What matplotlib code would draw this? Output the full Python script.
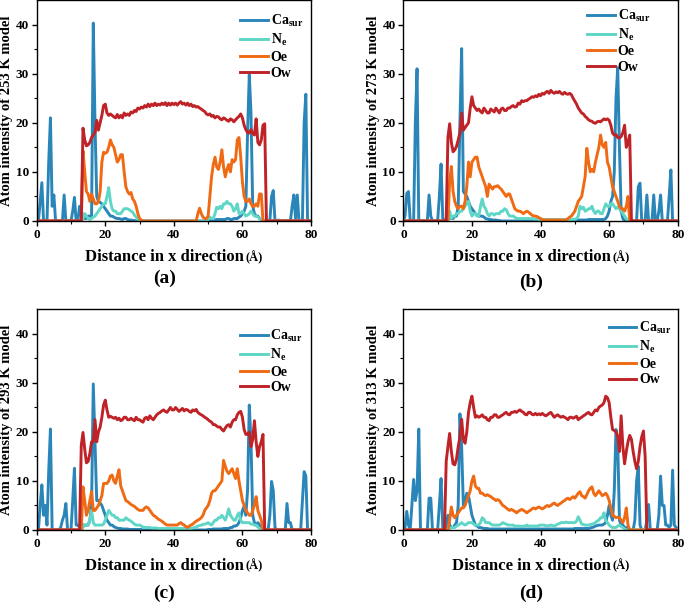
import matplotlib
matplotlib.use('Agg')
import matplotlib.pyplot as plt
import numpy as np

plt.rcParams['font.family'] = 'serif'
plt.rcParams['font.serif'] = ['Liberation Serif', 'DejaVu Serif']
plt.rcParams['font.weight'] = 'bold'
plt.rcParams['axes.labelweight'] = 'bold'
plt.rcParams['mathtext.fontset'] = 'custom'
plt.rcParams['mathtext.rm'] = 'Liberation Serif:bold'
plt.rcParams['mathtext.it'] = 'Liberation Serif:italic:bold'
plt.rcParams['mathtext.bf'] = 'Liberation Serif:bold'

# distance grid (Å), 0.5 step
dist = np.arange(0, 80, 0.5)

# ---- 253 K ----
ca_253 = [0, 0, 4, 7.8, 0, 0, 0, 12, 21, 3, 5.3, 0, 0, 0, 0, 0, 5.3, 0, 0, 0,
          0, 2, 4.8, 0, 0, 3, 2, 1, 0.5, 0.5, 1, 1, 1, 40.3, 20, 5, 4, 3.8, 3.5, 3,
          2.5, 2, 1.5, 1, 1, 0.8, 0.6, 0.5, 0.5, 0.4, 0.3, 0.5, 0.5, 0.3, 0.2, 0.2, 0.1, 0.1, 0, 0,
          0, 0, 0, 0, 0, 0, 0, 0, 0, 0, 0, 0, 0, 0, 0, 0, 0, 0, 0, 0,
          0, 0, 0, 0, 0, 0, 0, 0, 0, 0, 0, 0, 0, 0, 0, 0, 0, 0, 0, 0,
          0, 0.1, 0.2, 0.2, 0.2, 0.3, 0.3, 0.3, 0.3, 0.3, 0.3, 0.5, 0.5, 0.3, 0.3, 0.5, 0.5, 0.5, 0.8, 1,
          1.5, 2, 3, 18, 29.8, 22, 3, 1.5, 1, 1, 0.5, 0.3, 0, 0, 0, 0, 0, 5, 6.2, 0,
          0, 0.2, 0, 0, 0, 0, 0, 0, 0, 3, 5.3, 0.5, 5.3, 0, 0, 0, 20, 25.8, 0, 0]
ne_253 = [0, 0, 0, 0, 0, 0, 0, 0, 0, 0, 0, 0, 0, 0, 0, 0, 0, 0, 0, 0,
          0, 0, 0, 0, 0, 0, 0, 0.5, 1.5, 1, 0.5, 0.3, 0.5, 0.8, 1, 1.5, 2, 2.5, 3, 3.5,
          3.5, 5, 6.8, 4, 2.5, 2, 2, 1.5, 1.5, 1.5, 2, 2.5, 2.5, 2.5, 2.3, 2, 1.8, 1.2, 0.8, 0.4,
          0.2, 0, 0, 0, 0, 0, 0, 0, 0, 0, 0, 0, 0, 0, 0, 0, 0, 0, 0, 0,
          0, 0, 0, 0, 0, 0, 0, 0, 0, 0, 0, 0, 0, 0, 0, 0, 0, 0, 0, 0,
          0.3, 0.8, 0.5, 0.5, 1.5, 2.8, 2.5, 3, 2.5, 3.5, 3.5, 4, 3.5, 3.5, 3, 2, 2.5, 3.5, 1.5, 1.5,
          2, 1.5, 1, 1.2, 1.5, 2, 1.5, 1, 1, 0.8, 0.5, 0.2, 0, 0, 0, 0, 0, 0, 0, 0,
          0, 0, 0, 0, 0, 0, 0, 0, 0, 0, 0, 0, 0, 0, 0, 0, 0, 0, 0, 0]
oe_253 = [0, 0, 0, 0, 0, 0, 0, 0, 0, 0, 0, 0, 0, 0, 0, 0, 0, 0, 0, 0,
          0, 0, 0, 0, 0, 0, 0, 14.3, 10, 6, 5.5, 4, 5.5, 4.5, 3.5, 3.5, 4, 6, 12, 14,
          13.8, 14, 15, 16.5, 15.5, 15, 13.5, 12, 12.5, 13.5, 13.5, 10, 7, 6, 5.5, 5.8, 4.5, 4, 3, 1.5,
          0.5, 0.2, 0, 0, 0, 0, 0, 0, 0, 0, 0, 0, 0, 0, 0, 0, 0, 0, 0, 0,
          0, 0, 0, 0, 0, 0, 0, 0, 0, 0, 0, 0, 0, 0, 1.5, 2.6, 1.5, 0.8, 0.5, 0.5,
          1, 5, 9, 11.5, 13, 11, 10.5, 12, 14.5, 11, 9, 10.5, 11.5, 10, 12.5, 12, 12.5, 16.5, 17, 13,
          8, 5, 4, 4, 4.5, 3.5, 3, 3, 3.5, 3, 5.5, 5.5, 0, 0, 0, 0, 0, 0, 0, 0,
          0, 0, 0, 0, 0, 0, 0, 0, 0, 0, 0, 0, 0, 0, 0, 0, 0, 0, 0, 0]
ow_253 = [0, 0, 0, 0, 0, 0, 0, 0, 0, 0, 0, 0, 0, 0, 0, 0, 0, 0, 0, 0,
          0, 0, 0, 0, 0, 0, 0, 18.9, 16.5, 15.3, 15.5, 16, 17, 17.5, 18, 20.5, 18.5, 20, 21.5, 23.5,
          23.8, 22, 21.5, 21.8, 21.5, 21.2, 21, 21.7, 21, 21.5, 21, 22, 21.5, 21.8, 21.5, 22.2, 22, 22.5, 22.3, 23,
          22.8, 23.2, 23, 23.5, 23.2, 23.8, 23.3, 23.8, 23.5, 24, 23.5, 23.8, 23.6, 24, 23.7, 24.1, 23.5, 24, 23.6, 24,
          23.7, 24, 23.6, 24, 24.3, 23.8, 24, 23.6, 24, 23.5, 23.8, 23.3, 23.5, 23.2, 23.3, 23, 22.8, 22.5, 22.3, 21.8,
          21.6, 21.8, 21.3, 21.5, 21, 21.3, 21.2, 20.8, 20.6, 21, 20.8, 20.5, 20.3, 20.8, 20.6, 20.2, 20.6, 21, 21.3, 21.8,
          21, 19.5, 18.6, 18, 17.9, 18.6, 17.8, 17.5, 20.8, 16, 15.5, 16.5, 19.5, 19.8, 0, 0, 0, 0, 0, 0,
          0, 0, 0, 0, 0, 0, 0, 0, 0, 0, 0, 0, 0, 0, 0, 0, 0, 0, 0, 0]

# ---- 273 K ----
ca_273 = [0, 1, 5.6, 6, 0, 0, 0, 20, 31, 0, 0, 0, 0, 0, 0, 5.3, 1, 0, 0, 0,
          0, 5, 11.6, 0.5, 0, 0.5, 1, 0.5, 0.5, 0.5, 1, 1, 3, 20, 35.1, 6, 5.5, 5, 4, 3,
          2.5, 2, 1.5, 1.2, 1, 1, 1, 0.8, 0.5, 0.4, 0.3, 0.3, 0.2, 0.2, 0.2, 0.1, 0.1, 0, 0, 0,
          0, 0, 0, 0, 0, 0, 0, 0, 0, 0, 0, 0, 0, 0, 0, 0, 0, 0, 0, 0,
          0, 0, 0, 0, 0, 0, 0, 0, 0, 0, 0, 0, 0, 0, 0, 0, 0, 0, 0, 0,
          0.1, 0.1, 0.2, 0.2, 0.2, 0.2, 0.2, 0.2, 0.3, 0.3, 0.3, 0.3, 0.3, 0.3, 0.3, 0.3, 0.3, 0.3, 0.5, 1,
          2, 4, 5, 10, 25, 31.2, 15, 2, 0.5, 0, 0, 0, 0, 0, 0, 0, 0, 7, 7.7, 0,
          0, 0, 5.3, 0, 0, 0, 5.3, 0, 0, 2, 5.3, 0, 0, 0, 0, 5, 10.4, 0, 0, 0]
ne_273 = [0, 0, 0, 0, 0, 0, 0, 0, 0, 0, 0, 0, 0, 0, 0, 0, 0, 0, 0, 0,
          0, 0, 0, 0, 0, 0, 0, 2, 0.5, 1, 1, 1.5, 1.5, 2, 2, 2.5, 3, 3.5, 4, 2,
          1, 1.5, 1.5, 1, 1, 3, 4.5, 3, 2.5, 1.5, 1, 1.5, 1.5, 1.2, 1.5, 1.5, 1.5, 2, 2, 2.5,
          2.3, 1.5, 1, 1, 1, 0.8, 0.5, 0.5, 0.5, 0.5, 0.5, 0.5, 0.5, 0.5, 0.5, 0.5, 0.4, 0.4, 0.4, 0.3,
          0.3, 0.3, 0.3, 0.3, 0.3, 0.3, 0.3, 0.3, 0.3, 0.3, 0.3, 0.3, 0.3, 0.3, 0.3, 0.3, 0.3, 0.3, 0.3, 0.3,
          0.3, 0.5, 1, 3, 2.5, 2.8, 2, 2.2, 2.5, 2.5, 3, 2, 1.5, 2, 2, 1.5, 1.5, 2.5, 3.5, 3,
          3, 3.5, 3.5, 3, 2.5, 2.8, 2.5, 2, 1.5, 1, 0.5, 0.2, 0, 0, 0, 0, 0, 0, 0, 0,
          0, 0, 0, 0, 0, 0, 0, 0, 0, 0, 0, 0, 0, 0, 0, 0, 0, 0, 0, 0]
oe_273 = [0, 0, 0, 0, 0, 0, 0, 0, 0, 0, 0, 0, 0, 0, 0, 0, 0, 0, 0, 0,
          0, 0, 0, 0, 0, 0, 0, 8, 11.1, 6, 4, 3, 2.5, 3, 3, 2.5, 4, 7, 12, 9,
          12, 12.5, 13, 13, 11, 10, 9, 8, 7, 5, 7.5, 7, 6.5, 7, 7, 7.2, 6.8, 6.5, 6, 5.5,
          5, 5.5, 5.5, 4.5, 3.5, 2.5, 2.2, 2, 2, 1.8, 1.5, 1.8, 2, 1.8, 1.5, 1.2, 1, 1, 0.9, 0.7,
          0.5, 0.3, 0.2, 0.2, 0.2, 0.2, 0.2, 0.2, 0.2, 0.2, 0.2, 0.2, 0.2, 0.2, 0.2, 0.2, 0.5, 0.8, 1, 1.5,
          2, 3, 4, 4.5, 5, 7, 9, 14.8, 12, 10, 10.5, 10, 12, 13.5, 15, 17.5, 15.5, 15, 16, 12,
          11, 9, 7, 6, 5, 4, 3, 2.5, 2.5, 2, 3, 5, 0, 0, 0, 0, 0, 0, 0, 0,
          0, 0, 0, 0, 0, 0, 0, 0, 0, 0, 0, 0, 0, 0, 0, 0, 0, 0, 0, 0]
ow_273 = [0, 0, 0, 0, 0, 0, 0, 0, 0, 0, 0, 0, 0, 0, 0, 0, 0, 0, 0, 0,
          0, 0, 0, 0, 0, 0, 17, 19.8, 16, 14.1, 14.5, 15.2, 16.5, 18, 22, 18.5, 19, 19.5, 20, 23,
          25.3, 23.5, 23, 22.5, 22.8, 22.3, 22, 23, 22.5, 22, 22, 22.8, 22.5, 22.2, 23, 22.5, 22, 22.8, 23, 22.5,
          22.5, 23, 23, 23.3, 23.5, 23.2, 23.3, 24, 23.8, 24.5, 24.3, 24.5, 24.5, 24.8, 25, 25.3, 25.2, 25.5, 25.3, 25.8,
          25.5, 26, 25.8, 26.2, 26.4, 26, 26.6, 26.2, 26, 26.3, 26.1, 26.4, 26, 25.8, 26.2, 25.9, 25.8, 26, 25.7, 25,
          24.4, 23.8, 23, 22.5, 22, 21.8, 21.3, 21, 20.6, 20.4, 20.3, 20, 19.9, 20.2, 20.3, 20.2, 20.5, 20.8, 20.6, 20.8,
          20.5, 19.5, 17.9, 17.5, 17.6, 17, 16.9, 17.2, 18, 19.5, 15, 16, 17.5, 0, 0, 0, 0, 0, 0, 0,
          0, 0, 0, 0, 0, 0, 0, 0, 0, 0, 0, 0, 0, 0, 0, 0, 0, 0, 0, 0]

# ---- 293 K ----
ca_293 = [0, 0, 5, 9.2, 3, 5, 1, 12, 20.6, 0, 0, 0, 0, 0, 0.5, 2, 3, 5.4, 0, 0,
          0, 6, 12.6, 1, 1, 0.5, 0.5, 1, 1, 1, 1, 2, 5, 29.8, 18, 6, 6, 5.5, 5, 4,
          3, 2, 1.5, 1, 1, 0.7, 0.5, 0.4, 0.3, 0.3, 0.2, 0.2, 0.2, 0.2, 0.1, 0.1, 0.1, 0.1, 0.1, 0.1,
          0.1, 0.1, 0, 0, 0, 0, 0, 0, 0, 0, 0, 0, 0, 0, 0, 0, 0, 0, 0, 0,
          0, 0, 0, 0, 0, 0, 0, 0, 0, 0, 0, 0, 0, 0, 0, 0, 0, 0, 0, 0,
          0.1, 0.1, 0.1, 0.2, 0.2, 0.2, 0.2, 0.2, 0.2, 0.3, 0.3, 0.3, 0.3, 0.5, 0.5, 0.8, 0.8, 1, 1.5, 2.5,
          4, 4.8, 3, 8, 25.5, 18, 3, 1.5, 1, 1.5, 1, 0.5, 0.2, 0, 0, 0, 3, 9.9, 8, 0.5,
          0, 0, 0, 0, 0, 0, 5.4, 1.5, 1.5, 0, 0, 0, 0, 0, 0, 6, 11.9, 11, 0, 0]
ne_293 = [0, 0, 0, 0, 0, 0, 0, 0, 0, 0, 0, 0, 0, 0, 0, 0, 0, 0, 0, 0,
          0, 0, 0, 0, 0, 0, 0, 0.5, 1, 1, 1, 2, 4, 1.5, 1, 1, 1, 1, 1, 1.2,
          2, 3, 4, 3.5, 3, 3, 2.5, 2.5, 2, 2, 2, 2, 2.5, 2.2, 2, 1.8, 1.5, 1.2, 1, 1,
          1, 0.8, 0.6, 0.5, 0.5, 0.5, 0.5, 0.4, 0.4, 0.4, 0.4, 0.3, 0.3, 0.3, 0.3, 0.3, 0.3, 0.3, 0.3, 0.3,
          0.3, 0.3, 0.3, 0.3, 0.3, 0.3, 0.3, 0.3, 0.3, 0.3, 0.3, 0.4, 0.5, 0.6, 0.8, 0.9, 1, 1.1, 1.2, 1.3,
          1.5, 1.2, 1, 1.5, 2, 2, 2.5, 2.5, 3, 2.5, 2, 3, 4.3, 3, 2.5, 2, 2, 3, 3.5, 2,
          1.5, 1.5, 1.5, 1.5, 1.5, 1.2, 1.2, 1, 1, 0.6, 0.3, 0.1, 0, 0, 0, 0, 0, 0, 0, 0,
          0, 0, 0, 0, 0, 0, 0, 0, 0, 0, 0, 0, 0, 0, 0, 0, 0, 0, 0, 0]
oe_293 = [0, 0, 0, 0, 0, 0, 0, 0, 0, 0, 0, 0, 0, 0, 0, 0, 0, 0, 0, 0,
          0, 0, 0, 0, 0, 0, 0, 8.8, 6, 3, 4, 6, 7.8, 4, 4, 4.5, 5, 6, 7, 9.5,
          9.5, 9.5, 10, 11, 11.2, 10, 9.5, 11, 12.3, 9, 8, 7, 6, 5.8, 5.5, 5.2, 5, 4.8, 4.5, 4.2,
          4, 4, 4, 4.5, 4.7, 4.5, 4, 3.5, 3, 2.8, 2.5, 2.2, 2, 1.8, 1.5, 1.2, 1, 1, 1, 1,
          1, 1, 1, 1.3, 1.5, 1.2, 1, 0.7, 0.5, 0.8, 1, 1.2, 1.5, 1.8, 2, 2.2, 2.5, 3, 4, 4.5,
          5, 6, 7.5, 8, 8, 8.5, 9, 9.5, 10, 14.2, 13, 12, 11.5, 12, 12.5, 11.5, 10.5, 12.5, 10, 8,
          6, 5, 4, 3.5, 3, 3, 4, 5, 6.8, 4, 3, 2, 0, 0, 0, 0, 0, 0, 0, 0,
          0, 0, 0, 0, 0, 0, 0, 0, 0, 0, 0, 0, 0, 0, 0, 0, 0, 0, 0, 0]
ow_293 = [0, 0, 0, 0, 0, 0, 0, 0, 0, 0, 0, 0, 0, 0, 0, 0, 0, 0, 0, 0,
          0, 0, 0, 0, 0, 0, 17.3, 19.9, 16.5, 13.7, 14, 15.6, 18, 18, 22.5, 18, 20, 21, 23, 25.5,
          26.5, 24.5, 23, 23.2, 23, 22.8, 23, 22.5, 22.8, 22.3, 22.5, 23, 23, 22.5, 22.5, 22.8, 22.5, 22.3, 23, 22.5,
          22.5, 22.2, 22, 22.8, 23, 22.5, 23.3, 22.8, 22.5, 23, 23.5, 23.8, 24, 24.3, 24.5, 24.2, 24, 24.5, 25, 24.5,
          24.5, 25, 24.6, 24.2, 24.5, 24.8, 24.3, 24.6, 24.5, 24.2, 24, 24.5, 24.3, 24.6, 24, 23.7, 23.5, 23.3, 23, 22.8,
          22.5, 22.2, 22, 21.5, 21.5, 21.2, 21, 21, 20.5, 20.2, 20.8, 21.3, 21.5, 21, 22, 22.5, 22.5, 23.5, 24, 24.2,
          23, 20.5, 19.5, 19.5, 20, 17, 18.5, 22.3, 18, 15, 17, 18, 19.5, 0, 0, 0, 0, 0, 0, 0,
          0, 0, 0, 0, 0, 0, 0, 0, 0, 0, 0, 0, 0, 0, 0, 0, 0, 0, 0, 0]

# ---- 313 K ----
ca_313 = [0, 0.5, 3.8, 1, 0, 5, 10.3, 6, 8, 20.6, 0, 0, 0, 0, 0, 6.5, 6.5, 0, 0, 0,
          0, 5, 10.5, 0.5, 0, 1, 3, 1, 0.5, 0.5, 1, 1.5, 5, 23.7, 17, 5, 6, 7.5, 7, 5,
          3, 2, 1, 0.8, 0.5, 0.5, 0.4, 0.3, 0.3, 0.3, 0.2, 0.2, 0.2, 0.2, 0.2, 0.2, 0.2, 0.2, 0.2, 0.2,
          0.2, 0.2, 0.2, 0.2, 0.2, 0.2, 0.2, 0.2, 0.2, 0.2, 0.2, 0.2, 0.2, 0.2, 0.2, 0.2, 0.2, 0.2, 0.2, 0.2,
          0.2, 0.2, 0.2, 0.2, 0.2, 0.2, 0.2, 0.2, 0.2, 0.2, 0.2, 0.2, 0.2, 0.2, 0.2, 0.2, 0.2, 0.2, 0.2, 0.2,
          0.3, 0.3, 0.3, 0.3, 0.3, 0.3, 0.3, 0.3, 0.3, 0.4, 0.5, 0.6, 0.8, 0.9, 1, 1, 1, 1.2, 1.5, 3,
          5, 3, 2, 8, 20.5, 18, 2, 1, 1, 0.5, 0.5, 0.2, 0, 0, 0, 2, 10, 13, 1, 0,
          0, 0, 2, 5.2, 0, 0, 0, 0, 0, 3, 11, 5, 5, 1, 1, 0.5, 1, 12.2, 1, 0.5]
ne_313 = [0, 0, 0, 0, 0, 0, 0, 0, 0, 0, 0, 0, 0, 0, 0, 0, 0, 0, 0, 0,
          0, 0, 0, 0, 0, 0, 0, 0.3, 0.5, 0.5, 0.5, 0.8, 1, 1.2, 1.5, 1.2, 1, 1.2, 1.5, 1.5,
          1.5, 1.2, 1, 1, 1, 1.5, 2.5, 2.2, 1.5, 1.5, 1.5, 1.2, 1, 1, 1, 1, 1, 1.2, 1.5, 1.3,
          1.2, 1, 1, 1, 1, 0.8, 0.8, 0.8, 0.8, 0.7, 0.8, 0.8, 1, 0.8, 0.8, 0.8, 0.8, 0.8, 0.8, 0.9,
          1, 1, 1, 0.9, 0.8, 0.9, 1, 0.9, 0.8, 1, 1.2, 1.3, 1.5, 1.5, 1.5, 1.6, 1.5, 1.5, 1.5, 1.5,
          1.5, 1.8, 2.7, 2, 1.2, 1.1, 1, 1, 1, 1.1, 1.2, 1.3, 1.5, 1.8, 2, 2.5, 2.5, 3.5, 2, 1.5,
          1, 0.7, 0.5, 0.5, 0.5, 0.8, 1, 0.7, 0.5, 0.2, 0, 0, 0, 0, 0, 0, 0, 0, 0, 0,
          0, 0, 0, 0, 0, 0, 0, 0, 0, 0, 0, 0, 0, 0, 0, 0, 0, 0, 0, 0]
oe_313 = [0, 0, 0, 0, 0, 0, 0, 0, 0, 0, 0, 0, 0, 0, 0, 0, 0, 0, 0, 0,
          0, 0, 0, 0, 0, 0, 0, 2, 4.7, 3, 2.5, 3, 3.5, 4, 4.5, 4.5, 5, 6, 7, 8,
          10, 11, 9, 8.5, 8.5, 7.5, 7.5, 7.2, 7, 7.2, 7, 6.8, 6.5, 6.3, 6, 6.2, 6, 5.5, 5, 4.8,
          4.5, 4.2, 4, 4.2, 4, 3.8, 3.5, 3.8, 4, 4.2, 4, 3.8, 3.5, 3.8, 4, 4.3, 4.5, 4.3, 4.5, 4.7,
          4.5, 4.3, 4.5, 4.8, 5, 4.8, 5, 5.3, 5.5, 5.2, 5, 5.3, 5.5, 5.8, 6, 6.3, 6.5, 6.2, 6.5, 6.8,
          6.5, 7, 7.5, 7.8, 7, 6.8, 6.5, 7.2, 8, 8.5, 8.8, 7.5, 7, 7.5, 8, 7.5, 7, 7.2, 7.5, 7,
          6, 4.5, 3, 2.8, 2.5, 2.6, 2.5, 2, 1.5, 2.5, 4.5, 1, 0, 0, 0, 0, 0, 0, 0, 0,
          0, 0, 0, 0, 0, 0, 0, 0, 0, 0, 0, 0, 0, 0, 0, 0, 0, 0, 0, 0]
ow_313 = [0, 0, 0, 0, 0, 0, 0, 0, 0, 0, 0, 0, 0, 0, 0, 0, 0, 0, 0, 0,
          0, 0, 0, 0, 0, 14, 17, 19.7, 16, 13.5, 13.3, 14.5, 17, 19, 22.6, 18.5, 17.7, 20, 24, 26,
          27.3, 25, 23, 23.3, 23, 23.2, 23.5, 23, 23, 22.5, 22.3, 23, 23, 23.5, 23.5, 23, 23, 23.3, 23.5, 23.8,
          24, 23.6, 23.5, 24, 24, 24.2, 24, 24.3, 24.5, 24.2, 24, 23.6, 23.5, 24, 24, 23.6, 23.5, 23.8, 23.5, 23.7,
          23.5, 23.8, 23.5, 23.3, 23.5, 23.8, 24, 23.5, 23, 23.3, 23.5, 23.2, 23, 23.2, 23, 22.8, 22.5, 23, 23, 22.8,
          23, 23.2, 22.5, 22.8, 23, 23.3, 23.5, 23.8, 24, 23.6, 23.5, 24, 24.5, 24.3, 25, 25.3, 25.5, 26, 27.3, 27,
          26, 23, 20.5, 20.3, 20, 19, 16, 23.3, 17, 13.5, 16, 18, 19.3, 18.5, 16, 14, 12.5, 14, 17, 19,
          20.2, 15, 0, 0, 0, 0, 0, 0, 0, 0, 0, 0, 0, 0, 0, 0, 0, 0, 0, 0]

temps = ['253', '273', '293', '313']
tags = ['(a)', '(b)', '(c)', '(d)']
ca_all = [ca_253, ca_273, ca_293, ca_313]
ne_all = [ne_253, ne_273, ne_293, ne_313]
oe_all = [oe_253, oe_273, oe_293, oe_313]
ow_all = [ow_253, ow_273, ow_293, ow_313]

colors = ['#2a86b8', '#5fd6c6', '#f06a14', '#bf2327']
labels = [r'Ca$_{\mathrm{sur}}$', r'N$_{\mathrm{e}}$', 'Oe', 'Ow']

# axes boxes in figure fraction [left, bottom, width, height]
boxes = [[0.0536, 0.6335, 0.4004, 0.3665],
         [0.5888, 0.6335, 0.4006, 0.3665],
         [0.0536, 0.1211, 0.4004, 0.3657],
         [0.5888, 0.1211, 0.4006, 0.3657]]
leg_anchor = [(0.722, 0.966), (0.649, 0.991), (0.72, 0.942), (0.728, 0.978)]
tag_y = [-0.258, -0.279, -0.286, -0.286]

fig = plt.figure(figsize=(6.85, 6.03), dpi=100)

for k in range(4):
    ax = fig.add_axes(boxes[k])
    series = [ca_all[k], ne_all[k], oe_all[k], ow_all[k]]
    for s in range(4):
        ax.plot(dist, series[s], color=colors[s], lw=2.1, label=labels[s])

    ax.set_xlim(0, 80)
    ax.set_ylim(0, 45)
    ax.set_xticks([0, 20, 40, 60, 80])
    ax.set_xticks([10, 30, 50, 70], minor=True)
    ax.set_yticks([0, 10, 20, 30, 40])
    ax.set_yticks([5, 15, 25, 35], minor=True)
    ax.tick_params(which='major', direction='out', length=3.5, width=1, labelsize=9.5, pad=2)
    ax.tick_params(which='minor', direction='out', length=2, width=0.8)
    for sp in ax.spines.values():
        sp.set_linewidth(1)

    ax.set_ylabel('Atom intensity of ' + temps[k] + ' K model', fontsize=10.5)
    ax.yaxis.set_label_coords(-0.086, 0.5)

    ax.text(0.757, -0.163, 'Distance in x direction', transform=ax.transAxes,
            ha='right', va='center', fontsize=12)
    ax.text(0.762, -0.163, '(Å)', transform=ax.transAxes,
            ha='left', va='center', fontsize=9)
    ax.text(0.465, tag_y[k], tags[k], transform=ax.transAxes,
            ha='center', va='center', fontsize=14)

    ax.legend(loc='upper left', bbox_to_anchor=leg_anchor[k], frameon=False,
              fontsize=10, handlelength=2.0, handletextpad=0.2,
              labelspacing=0.2, borderaxespad=0)

fig.savefig('out.png', dpi=100)
